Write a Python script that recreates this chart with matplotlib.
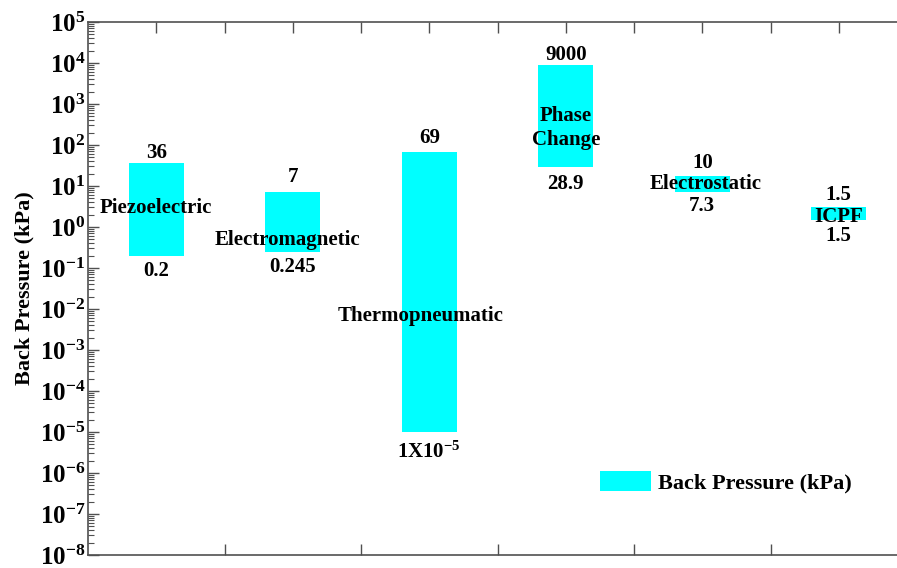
import matplotlib

matplotlib.use("Agg")
import matplotlib.pyplot as plt
import numpy as np
from matplotlib.ticker import FixedLocator, LogLocator, FuncFormatter, NullFormatter

plt.rcParams["font.family"] = "Liberation Serif"
plt.rcParams["font.weight"] = "bold"
plt.rcParams["mathtext.fontset"] = "custom"
plt.rcParams["mathtext.rm"] = "Liberation Serif:bold"
plt.rcParams["mathtext.bf"] = "Liberation Serif:bold"
plt.rcParams["mathtext.default"] = "bf"

# actuator types and their back pressure range (kPa)
actuators = ["Piezoelectric", "Electromagnetic", "Thermopneumatic", "Phase\nChange", "Electrostatic", "ICPF"]
low = [0.2, 0.245, 1e-5, 28.9, 7.3, 1.5]
high = [36, 7, 69, 9000, 10, 1.5]
low_labels = ["0.2", "0.245", r"1X10$^{-5}$", "28.9", "7.3", "1.5"]
high_labels = ["36", "7", "69", "9000", "10", "1.5"]

# label placement tweaks (pixels)
name_dx = [0, -5, -9, 0, 3, 0]
name_dy = [1, -18, -24, -12, 0, -3]
top_dy = [10, 15, 14, 10, 13, 12]
bot_dy = [-15, -15, -20, -17, -14, -16]

BAR_C = "#00FFFF"
SPINE_C = "#505050"
FS = 15

fig = plt.figure(figsize=(8.97, 5.68), dpi=100)
ax = fig.add_axes([88 / 897, 13 / 568, 819 / 897, 533 / 568])

x = np.arange(1, len(actuators) + 1)
ax.bar(x, high, bottom=low, width=0.4, color=BAR_C, label="Back Pressure (kPa)", zorder=2)

for i, xi in enumerate(x):
    lo, hi = low[i], low[i] + high[i]
    ax.annotate(high_labels[i], (xi, hi), xytext=(0, top_dy[i]), textcoords="offset pixels",
                ha="center", va="center", fontsize=FS, fontweight="bold", zorder=3)
    ax.annotate(low_labels[i], (xi, lo), xytext=(0, bot_dy[i]), textcoords="offset pixels",
                ha="center", va="center", fontsize=FS, fontweight="bold", zorder=3)
    ax.annotate(actuators[i], (xi, np.sqrt(lo * hi)), xytext=(name_dx[i], name_dy[i]),
                textcoords="offset pixels", ha="center", va="center", fontsize=FS,
                fontweight="bold", linespacing=1.25, zorder=3)

ax.set_yscale("log")
ax.set_ylim(1e-8, 1e5)
ax.set_xlim(0.5, 6.5)

ax.yaxis.set_major_locator(FixedLocator([10.0 ** k for k in range(-8, 6)]))
ax.yaxis.set_major_formatter(FuncFormatter(lambda v, p: r"$10^{%d}$" % round(np.log10(v))))
ax.yaxis.set_minor_locator(LogLocator(base=10, subs=np.arange(2, 10), numticks=20))
ax.yaxis.set_minor_formatter(NullFormatter())

ax.xaxis.set_major_locator(FixedLocator(x[:-1] + 0.5))
ax.xaxis.set_minor_locator(FixedLocator(x))
ax.tick_params(axis="x", which="major", direction="in", bottom=True, top=True,
               labelbottom=False, length=8, width=1, color=SPINE_C)
ax.tick_params(axis="x", which="minor", direction="in", bottom=False, top=True,
               length=8, width=1, color=SPINE_C)
ax.tick_params(axis="y", which="major", direction="in", left=True, right=False,
               length=8, width=1, color=SPINE_C, labelsize=18, pad=2)
ax.tick_params(axis="y", which="minor", direction="in", left=True, right=False,
               length=4, width=0.8, color=SPINE_C)

for side in ["left", "top", "bottom"]:
    ax.spines[side].set_color(SPINE_C)
    ax.spines[side].set_linewidth(1.2)
ax.spines["right"].set_visible(False)

ax.set_ylabel("Back Pressure (kPa)", fontsize=16, fontweight="bold", labelpad=4)

ax.legend(loc="center left", bbox_to_anchor=(0.625, 0.137), frameon=False,
          fontsize=16, borderpad=0, borderaxespad=0, handlelength=2.3,
          handleheight=1.0, handletextpad=0.3)

fig.savefig("out.png", dpi=100)
